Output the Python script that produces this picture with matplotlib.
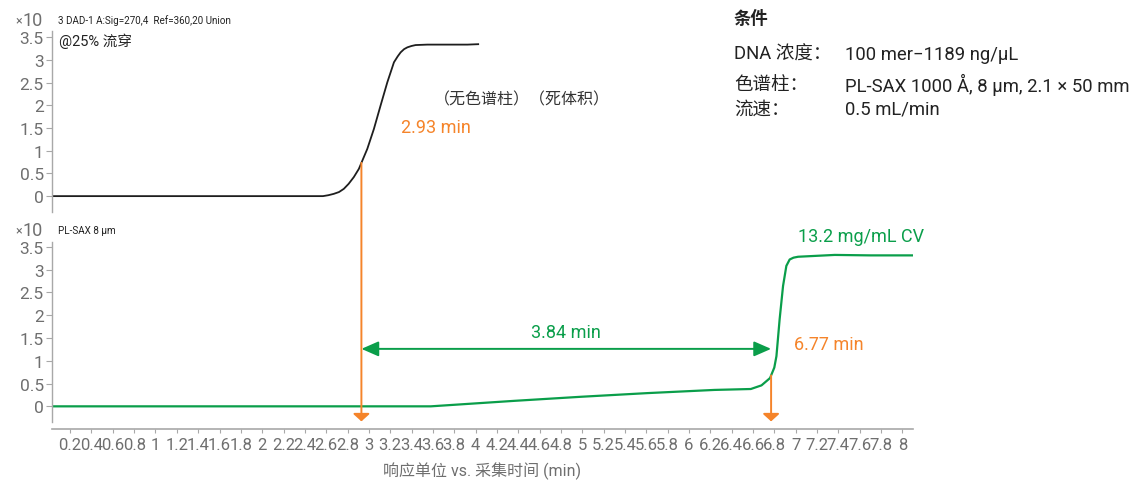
import matplotlib
matplotlib.use("Agg")
import matplotlib.pyplot as plt
import numpy as np
from matplotlib.patches import ConnectionPatch

plt.rcParams["font.family"] = ["Roboto", "Noto Sans CJK SC", "DejaVu Sans"]

# DAD-1 trace, no column (dead volume), time in min, signal x10
t_dad = [0.03, 2.57, 2.62, 2.671, 2.72, 2.765, 2.81, 2.859, 2.906, 2.985, 3.047, 3.110,
         3.173, 3.235, 3.27, 3.298, 3.33, 3.361, 3.40, 3.438, 3.548, 3.924, 4.033]
y_dad = [0.0, 0.0, 0.02, 0.05, 0.09, 0.16, 0.27, 0.42, 0.60, 1.04, 1.48, 2.00,
         2.51, 2.95, 3.08, 3.17, 3.24, 3.28, 3.31, 3.33, 3.34, 3.34, 3.35]

# PL-SAX 8 um breakthrough trace
t_sax = [0.03, 3.58, 4.36, 4.99, 5.61, 6.24, 6.58, 6.68, 6.76, 6.80,
         6.82, 6.85, 6.882, 6.913, 6.944, 6.98, 7.023, 7.366, 7.70, 8.117]
y_sax = [0.0, 0.0, 0.12, 0.21, 0.29, 0.36, 0.38, 0.46, 0.62, 0.85,
         1.10, 1.91, 2.64, 3.08, 3.22, 3.26, 3.28, 3.32, 3.31, 3.31]

t_dead = 2.93
t_break = 6.77
delta_label = "3.84 min"
cv_label = "13.2 mg/mL CV"

x_ticks = np.round(np.arange(0.2, 8.01, 0.2), 1)
y_ticks = [0, 0.5, 1, 1.5, 2, 2.5, 3, 3.5]

cond_keys = ["DNA 浓度：", "色谱柱：", "流速："]
cond_vals = ["100 mer−1189 ng/µL", "PL-SAX 1000 Å, 8 µm, 2.1 × 50 mm", "0.5 mL/min"]
cond_rows = [55, 85, 110]

ORANGE = "#F5842A"
GREEN = "#0A9E4A"
GREY = "#6f6f6f"
SPINE = "#a8a8a8"

W, H = 1134, 481
fig = plt.figure(figsize=(W / 100, H / 100), dpi=100)

left = 52 / W
width = (913 - 52) / W
ax_top = fig.add_axes([left, 1 - 213 / H, width, 181 / H])
ax_bot = fig.add_axes([left, 1 - 423.3 / H, width, 180.6 / H])

for ax in (ax_top, ax_bot):
    ax.set_xlim(0.03, 8.1)
    ax.set_yticks(y_ticks)
    ax.set_yticklabels([f"{v:g}" for v in y_ticks])
    ax.tick_params(axis="y", colors=SPINE, labelcolor=GREY, labelsize=12.5,
                   length=4, width=0.8, pad=2)
    for s in ("top", "right"):
        ax.spines[s].set_visible(False)
    ax.spines["left"].set_color(SPINE)
    ax.spines["left"].set_linewidth(1.0)

ax_top.set_ylim(-0.35, 3.64)
ax_top.spines["bottom"].set_visible(False)
ax_top.set_xticks([])

ax_bot.set_ylim(-0.35, 3.61)
ax_bot.spines["bottom"].set_position(("outward", 4.5))
ax_bot.spines["bottom"].set_color(SPINE)
ax_bot.spines["bottom"].set_linewidth(1.2)
ax_bot.set_xticks(x_ticks)
ax_bot.set_xticklabels([f"{v:g}" for v in x_ticks])
ax_bot.tick_params(axis="x", colors=SPINE, labelcolor=GREY, labelsize=12,
                   length=3, width=0.8, pad=3)
ax_bot.set_xlabel("响应单位 vs. 采集时间 (min)", color=GREY, fontsize=11.5,
                  labelpad=7)

ax_top.plot(t_dad, y_dad, color="#1e1e1e", lw=1.3, solid_capstyle="butt")
ax_bot.plot(t_sax, y_sax, color=GREEN, lw=1.6, solid_capstyle="butt")

# orange drop line for the dead-volume time, spanning both panels
y0 = float(np.interp(t_dead, t_dad, y_dad))
con = ConnectionPatch(xyA=(t_dead, y0), coordsA=ax_top.transData,
                      xyB=(t_dead, -0.33), coordsB=ax_bot.transData,
                      arrowstyle="-|>,head_length=0.45,head_width=0.5",
                      mutation_scale=10, color=ORANGE, lw=1.4,
                      shrinkA=0, shrinkB=0)
fig.add_artist(con)

y1 = float(np.interp(t_break, t_sax, y_sax))
ax_bot.annotate("", xy=(t_break, -0.33), xytext=(t_break, y1),
                arrowprops=dict(arrowstyle="-|>,head_length=0.45,head_width=0.5",
                                mutation_scale=10, color=ORANGE, lw=1.4,
                                shrinkA=0, shrinkB=0))

ax_bot.annotate("", xy=(t_dead, 1.26), xytext=(t_break, 1.26),
                arrowprops=dict(arrowstyle="<|-|>,head_length=0.8,head_width=0.35",
                                mutation_scale=13, color=GREEN, lw=1.4,
                                shrinkA=0, shrinkB=0))
ax_bot.text((t_dead + t_break) / 2, 1.63, delta_label, color=GREEN,
            fontsize=13, ha="center", va="center")

ax_top.text(3.30, 1.53, "2.93 min", color=ORANGE, fontsize=13,
            ha="left", va="center")
ax_top.text(3.61, 2.14, "（无色谱柱）（死体积）", color="#333333", fontsize=11.5,
            ha="left", va="center")
ax_top.text(0.1, 3.43, "@25% 流穿", color="#222222", fontsize=10.5,
            ha="left", va="center")

ax_bot.text(7.02, 3.73, cv_label, color=GREEN, fontsize=13,
            ha="left", va="center")
ax_bot.text(6.98, 1.37, "6.77 min", color=ORANGE, fontsize=13,
            ha="left", va="center")

# scale factor and trace headers
for ypx, header in ((21, "3 DAD-1 A:Sig=270,4  Ref=360,20 Union"), (231, "PL-SAX 8 µm")):
    fig.text(22 / W, 1 - ypx / H, "×", color=GREY, fontsize=9, ha="right", va="center")
    fig.text(43 / W, 1 - ypx / H, "10", color=GREY, fontsize=13, ha="right", va="center")
    fig.text(58 / W, 1 - ypx / H, header, color="#222222", fontsize=7.1,
             ha="left", va="center")

# run conditions
fig.text(734 / W, 1 - 18 / H, "条件", color="#222222", fontsize=12.5,
         fontweight="bold", ha="left", va="center")
for k, v, row in zip(cond_keys, cond_vals, cond_rows):
    yy = 1 - row / H
    fig.text(734 / W, yy, k, color="#222222", fontsize=13.3, ha="left", va="center")
    fig.text(845 / W, yy, v, color="#222222", fontsize=13.3, ha="left", va="center")

fig.savefig("out.png", dpi=100)
